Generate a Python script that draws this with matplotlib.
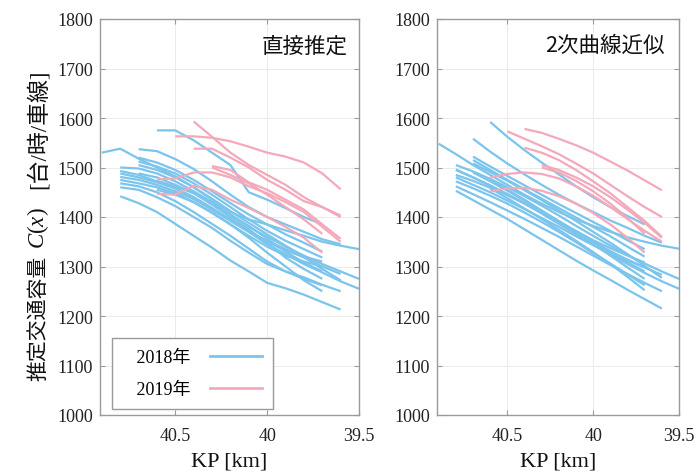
import numpy as np
import matplotlib
matplotlib.use("Agg")
import matplotlib.pyplot as plt
from matplotlib.lines import Line2D

plt.rcParams['font.family'] = ['Liberation Serif', 'Noto Sans CJK JP']
plt.rcParams['mathtext.fontset'] = 'custom'
plt.rcParams['mathtext.rm'] = 'Liberation Serif'
plt.rcParams['mathtext.it'] = 'Liberation Serif:italic'

# ---------------- data (KP step 0.1 km, listed from start KP downward) ----------------
# 直接推定 (direct estimation) 2018
direct_2018_start = [40.9, 40.6, 40.7, 40.8, 40.8, 40.8, 40.7, 40.8, 40.8, 40.7, 40.7, 40.8, 40.8, 40.6, 40.7, 40.8, 40.6]
direct_2018_vals = [
    [1530, 1538, 1518, 1500, 1482, 1460, 1435, 1410, 1395, 1385, 1373, 1362, 1350, 1342, 1335],
    [1575, 1575, 1555, 1530, 1505, 1450, 1435, 1418, 1400, 1385],
    [1537, 1533, 1517, 1497, 1472, 1445, 1420, 1400, 1385, 1370, 1355, 1345],
    [1500, 1498, 1488, 1472, 1452, 1430, 1405, 1380, 1360, 1340, 1322, 1305, 1290, 1275],
    [1493, 1485, 1472, 1458, 1440, 1418, 1393, 1370, 1345, 1325, 1305, 1288, 1270, 1255],
    [1481, 1475, 1465, 1452, 1436, 1415, 1392, 1370, 1352, 1335, 1318, 1300, 1285],
    [1505, 1495, 1480, 1460, 1437, 1412, 1388, 1365, 1342, 1320, 1295, 1272],
    [1460, 1455, 1440, 1422, 1400, 1378, 1352, 1328, 1305, 1290, 1278, 1263, 1250],
    [1442, 1428, 1410, 1386, 1362, 1338, 1312, 1290, 1267, 1256, 1243, 1228, 1213],
    [1520, 1510, 1495, 1475, 1452, 1428, 1405, 1385, 1365, 1348, 1330],
    [1512, 1502, 1488, 1468, 1445, 1420, 1395, 1372, 1352, 1335, 1318],
    [1488, 1480, 1470, 1458, 1440, 1418, 1395, 1372, 1350, 1332, 1320, 1310],
    [1475, 1468, 1460, 1448, 1430, 1408, 1385, 1362, 1340, 1322, 1310, 1300],
    [1473, 1462, 1448, 1428, 1405, 1382, 1356, 1330, 1308, 1290],
    [1488, 1480, 1465, 1448, 1425, 1400, 1375, 1348, 1318, 1295, 1275],
    [1468, 1462, 1450, 1432, 1410, 1386, 1362, 1336, 1310, 1290, 1275, 1262],
    [1455, 1445, 1430, 1410, 1385, 1358, 1328, 1300, 1272, 1250],
]
# 直接推定 2019
direct_2019_start = [40.5, 40.4, 40.4, 40.3, 40.6, 40.6, 40.3]
direct_2019_vals = [
    [1563, 1563, 1560, 1553, 1542, 1530, 1522, 1510, 1488, 1456],
    [1593, 1562, 1530, 1505, 1485, 1465, 1440, 1420, 1403],
    [1538, 1538, 1520, 1500, 1475, 1455, 1432, 1420, 1400],
    [1503, 1495, 1470, 1455, 1435, 1415, 1385, 1356],
    [1476, 1478, 1490, 1490, 1480, 1462, 1448, 1430, 1410, 1380, 1350],
    [1447, 1445, 1463, 1455, 1435, 1418, 1400, 1380, 1358, 1328],
    [1500, 1485, 1468, 1445, 1420, 1395, 1366],
]
# 2次曲線近似 (quadratic approximation) 2018
quad_2018_start = direct_2018_start
quad_2018_vals = [
    [1548, 1527, 1505, 1485, 1465, 1445, 1427, 1410, 1395, 1382, 1370, 1359, 1350, 1342, 1336],
    [1592, 1562, 1535, 1510, 1486, 1462, 1440, 1420, 1402, 1385],
    [1558, 1532, 1508, 1486, 1465, 1445, 1427, 1410, 1393, 1378, 1362, 1348],
    [1505, 1492, 1477, 1460, 1442, 1423, 1403, 1382, 1362, 1342, 1323, 1306, 1290, 1275],
    [1495, 1480, 1464, 1446, 1427, 1407, 1386, 1365, 1344, 1324, 1305, 1287, 1270, 1255],
    [1485, 1473, 1459, 1444, 1427, 1409, 1390, 1370, 1350, 1331, 1314, 1298, 1283],
    [1508, 1491, 1473, 1454, 1434, 1413, 1392, 1370, 1348, 1325, 1301, 1277],
    [1462, 1446, 1430, 1413, 1396, 1378, 1360, 1341, 1322, 1303, 1285, 1267, 1250],
    [1453, 1434, 1415, 1396, 1375, 1354, 1333, 1312, 1292, 1273, 1253, 1234, 1215],
    [1522, 1502, 1483, 1464, 1445, 1426, 1408, 1390, 1372, 1353, 1335],
    [1515, 1495, 1475, 1456, 1437, 1418, 1399, 1380, 1361, 1340, 1320],
    [1496, 1480, 1463, 1446, 1428, 1410, 1391, 1372, 1353, 1337, 1322, 1308],
    [1480, 1465, 1450, 1433, 1416, 1398, 1380, 1361, 1343, 1326, 1312, 1298],
    [1475, 1455, 1435, 1413, 1392, 1370, 1349, 1328, 1308, 1290],
    [1490, 1472, 1453, 1433, 1412, 1390, 1368, 1345, 1322, 1298, 1275],
    [1472, 1458, 1443, 1427, 1409, 1390, 1370, 1349, 1327, 1306, 1284, 1262],
    [1458, 1438, 1417, 1396, 1374, 1352, 1329, 1305, 1279, 1252],
]
# 2次曲線近似 2019
quad_2019_start = [40.5, 40.4, 40.4, 40.3, 40.6, 40.6, 40.3]
quad_2019_vals = [
    [1573, 1558, 1543, 1527, 1508, 1488, 1465, 1442, 1420, 1400],
    [1578, 1570, 1558, 1545, 1530, 1512, 1494, 1474, 1454],
    [1540, 1530, 1515, 1495, 1472, 1448, 1420, 1392, 1360],
    [1505, 1495, 1480, 1462, 1440, 1415, 1388, 1358],
    [1480, 1487, 1490, 1487, 1478, 1462, 1443, 1420, 1396, 1372, 1350],
    [1452, 1458, 1459, 1453, 1442, 1427, 1408, 1385, 1358, 1328],
    [1500, 1490, 1473, 1452, 1427, 1398, 1366],
]

panel_titles = ['直接推定', '2次曲線近似']
legend_labels = ['2018年', '2019年']
ylabel_parts = ['推定交通容量', '$C(x)$', '[台/時/車線]']
xticks = [40.5, 40.0, 39.5]
xtick_labels = ['40.5', '40', '39.5']
yticks = [1000, 1100, 1200, 1300, 1400, 1500, 1600, 1700, 1800]

C18 = '#7bc4ec'
C19 = '#f4a9ba'
GRAY = '#9a9a9a'

fig = plt.figure(figsize=(6.99, 4.77), dpi=100)
ax1 = fig.add_axes([100/699, 61/477, 259/699, 396/477])
ax2 = fig.add_axes([437/699, 61/477, 242/699, 396/477])


def kp_axis(start, n):
    return np.round(start - 0.1*np.arange(n), 2)


def draw(ax, s18, v18, s19, v19):
    for s, v in zip(s18, v18):
        ax.plot(kp_axis(s, len(v)), v, color=C18, lw=1.6, solid_capstyle='butt', zorder=2)
    for s, v in zip(s19, v19):
        ax.plot(kp_axis(s, len(v)), v, color=C19, lw=1.6, solid_capstyle='butt', zorder=3)


draw(ax1, direct_2018_start, direct_2018_vals, direct_2019_start, direct_2019_vals)
draw(ax2, quad_2018_start, quad_2018_vals, quad_2019_start, quad_2019_vals)

for ax, title, tx in [(ax1, panel_titles[0], 0.958), (ax2, panel_titles[1], 0.942)]:
    ax.set_xlim(40.91, 39.5)
    ax.set_ylim(1000, 1800)
    ax.set_xticks(xticks)
    ax.set_xticklabels(xtick_labels)
    ax.set_yticks(yticks)
    ax.grid(True, color='#ebebeb', lw=0.7, zorder=0)
    ax.set_axisbelow(True)
    for sp in ax.spines.values():
        sp.set_color(GRAY)
        sp.set_linewidth(1.0)
    ax.tick_params(direction='in', length=3.5, width=0.8, color=GRAY,
                   top=True, right=True, labelsize=13, labelcolor='#222222')
    ax.tick_params(axis='x', pad=9)
    ax.tick_params(axis='y', pad=5)
    ax.set_xlabel('KP [km]', fontsize=16, color='#111111', labelpad=5)
    ax.text(tx, 0.934, title, transform=ax.transAxes, ha='right', va='center',
            fontsize=15.5, family='Noto Sans CJK JP', color='#111111')

# y label composed of three pieces (CJK / math / CJK+brackets)
label_centers_px = [318, 228, 129]
label_fams = ['Noto Sans CJK JP', None, ['Liberation Serif', 'Noto Sans CJK JP']]
label_sizes = [15, 16.5, 16.5]
for part, cy, fam, fs in zip(ylabel_parts, label_centers_px, label_fams, label_sizes):
    kw = {} if fam is None else {'family': fam}
    fig.text(38/699, 1 - cy/477, part, rotation=90, ha='center', va='center',
             fontsize=fs, color='#111111', **kw)

handles = [Line2D([0], [0], color=C18, lw=2), Line2D([0], [0], color=C19, lw=2)]
leg = ax1.legend(handles, ['   ' + s for s in legend_labels], loc='lower left',
                 bbox_to_anchor=(0.046, 0.015), borderaxespad=0,
                 markerfirst=False, fontsize=13, handlelength=2.9,
                 fancybox=False, framealpha=1, edgecolor=GRAY, borderpad=0.6,
                 labelspacing=0.85, handletextpad=1.1)
leg.get_frame().set_linewidth(1.0)

fig.savefig('out.png', dpi=100)
